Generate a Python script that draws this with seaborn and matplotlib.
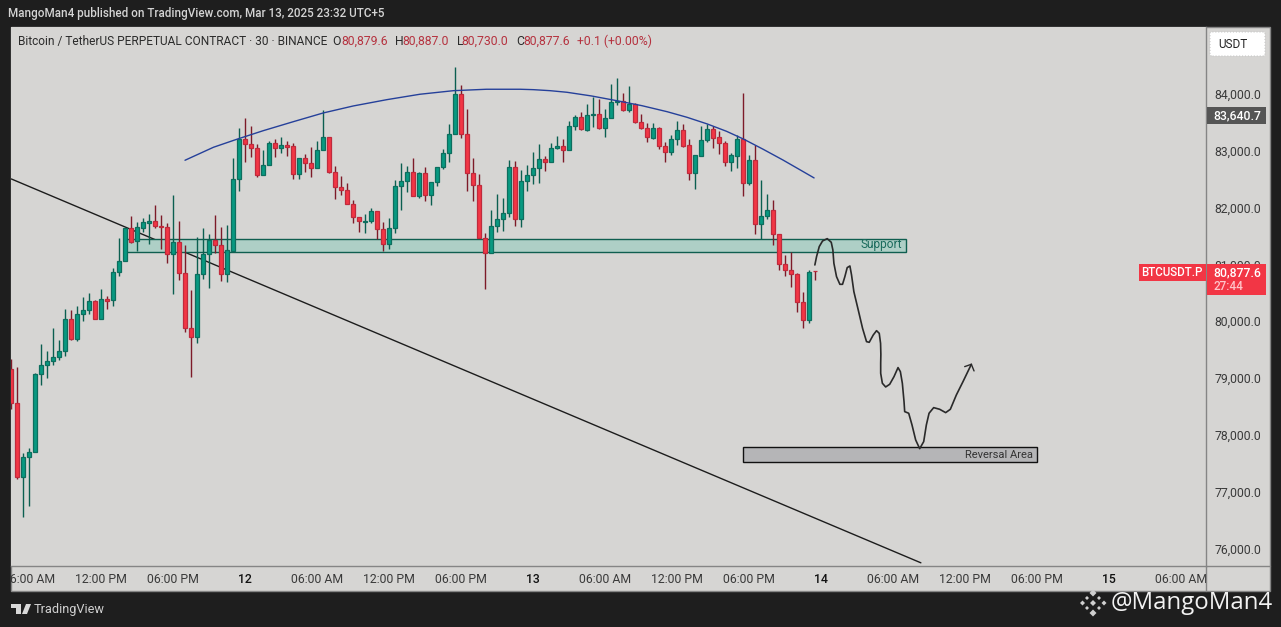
import numpy as np
import pandas as pd
import matplotlib
matplotlib.use("Agg")
import matplotlib.pyplot as plt
from matplotlib.lines import Line2D
from matplotlib.patches import Polygon, Rectangle, FancyBboxPatch
import seaborn as sns

# ---------- data (30 min BTCUSDT.P candles) ----------
open_ = [79152,78553,77250,77602,77690,79064,79222,79293,79363,79469,80032,79692,80120,80191,80349,80032,80385,80367,80860,81054,
         81635,81406,81647,81735,81758,81676,81652,81177,81388,80842,79874,79715,80825,81177,81423,81335,80825,81240,82497,83201,
         83113,83042,82579,82743,83130,83042,83095,83078,82596,82866,82790,82690,83007,83236,82631,82367,82303,82068,81827,81745,
         81757,81933,81628,81352,81634,82373,82461,82620,82209,82602,82226,82444,82708,82954,83289,83993,83289,82614,82403,81469,
         81193,81669,81792,81898,82708,81792,82461,82567,82690,82849,82796,83042,83078,83019,83430,83588,83371,83624,83641,83395,
         83571,83853,83882,83723,83829,83512,83395,83230,83395,83089,82972,83213,83359,83095,82602,82902,83183,83377,83236,83130,
         82808,82913,83201,82438,82831,81704,81845,81951,81528,80999,80894,80824,80331,80014,80879.6]
close = [78553,77250,77602,77690,79064,79222,79293,79363,79469,80032,79692,80120,80191,80349,80032,80385,80361,80860,81054,81635,
         81400,81652,81740,81758,81670,81658,81177,81388,80842,79874,79715,80825,81177,81423,81335,80825,81247,82497,83207,83113,
         83042,82579,82743,83130,83042,83095,83072,82596,82866,82790,82690,83007,83236,82631,82367,82303,82068,81827,81757,81757,
         81933,81628,81352,81634,82373,82461,82620,82209,82602,82226,82444,82708,82954,83289,83993,83289,82614,82403,81469,81193,
         81669,81792,81898,82708,81792,82461,82567,82690,82849,82796,83042,83078,83019,83430,83588,83377,83624,83647,83395,83571,
         83853,83882,83718,83829,83512,83395,83236,83395,83089,82972,83213,83359,83089,82602,82919,83183,83377,83230,83130,82808,
         82919,83201,82438,82831,81704,81845,81951,81528,80999,80894,80824,80331,80014,80859,80877.6]
high = [79334,79193,77673,77761,79080,79598,79475,79874,79668,80208,80197,80267,80426,80496,80373,80566,80443,80936,81465,81647,
        81852,81746,81817,81887,82046,81870,81729,82222,81764,81341,80549,81482,81641,81529,81870,81658,81694,82872,83395,83577,
        83436,83113,83013,83172,83201,83236,83172,83130,82866,82937,83060,83172,83712,83248,82725,82549,82426,82133,81827,81886,
        81986,81933,81739,81816,82479,82784,82725,82872,82626,82714,82444,82708,83031,83465,84475,84158,83735,82872,82590,81546,
        81957,82232,82162,82837,82819,82655,82743,82972,83119,82902,83130,83260,83201,83524,83629,83682,83823,83952,83905,83729,
        84175,84275,84017,84134,83847,83641,83483,83483,83412,83154,83271,83518,83471,83201,82919,83430,83465,83430,83354,83172,
        82966,83271,84017,82919,83095,82485,82238,82133,81528,81164,81223,80841,80507,80894,80887]
low = [78459,77226,76557,76751,77690,78882,79005,79228,79316,79392,79668,79657,80009,80132,80032,80032,80214,80273,80795,81054,
       81382,81236,81564,81353,81641,81265,81030,80484,80731,79815,79023,79621,80748,80590,81206,80713,80696,81240,82297,82808,
       82896,82544,82579,82743,82896,82966,82907,82508,82508,82632,82544,82690,83007,82614,82156,82226,82056,81734,81575,81557,
       81734,81440,81229,81276,81546,81962,82279,82203,82174,82121,82050,82385,82684,82808,83289,83230,82297,82121,81469,80571,
       81193,81575,81587,81828,81681,81663,82297,82420,82438,82649,82796,83025,82808,83019,83371,83365,83354,83412,83389,83248,
       83571,83811,83700,83688,83494,83389,83154,83207,83037,82808,82931,83095,83072,82485,82332,82902,83160,83054,82949,82731,
       82649,82702,82209,82403,81534,81440,81804,81340,80906,80800,80606,80166,79884,79961,80730]

arc_i = [28.95,33.7,37.6,42.0,47.0,52.0,57.0,62.6,68.1,73.7,79.2,84.8,87.0,89.8,92.6,96.7,100.9,105.1,109.3,112.6,116,119.2,122,125.3,128.6,131.5,133.8]
arc_p = [82833,83062,83203,83354,83512,83666,83789,83900,83995,84058,84083,84083,84076,84058,84030,83965,83882,83794,83688,83590,83472,83343,83208,83027,82838,82662,82522]

trend_i = [0.0, 151.6]
trend_p = [82504, 75746]

path_i = [133.93,134.21,134.66,135.21,135.99,136.66,136.93,137.1,137.54,138.1,138.54,138.93,139.32,139.77,140.04,140.43,141.16,141.88,142.54,142.99,
          143.66,144.21,144.66,144.88,144.93,144.9,144.9,145.18,145.73,146.4,147.12,147.79,148.18,148.51,148.79,148.9,149.57,150.12,150.73,151.4,
          152.07,152.51,152.96,153.73,154.73,155.73,156.51,157.51,158.62,160.01]
path_p = [80990,81136,81313,81412,81453,81389,81254,81019,80784,80649,80649,80784,80943,80972,80814,80520,80197,79874,79640,79628,
          79757,79833,79786,79610,79417,79259,79083,78907,78842,78889,79024,79183,79112,78907,78584,78408,78379,78173,77909,77756,
          77880,78173,78379,78478,78449,78390,78449,78701,78936,79241]
head_i = [158.9, 160.01, 160.46]
head_p = [79200, 79241, 79124]

support_zone = (19.0, 149.1, 81222, 81443)
reversal_zone = (121.95, 171.0, 77518, 77792)

y_ticks = [76000,77000,78000,79000,80000,81000,82000,83000,84000]
x_ticks = [3,15,27,39,51,63,75,87,99,111,123,135,147,159,171,183,195]
x_labels = ["06:00 AM","12:00 PM","06:00 PM","12","06:00 AM","12:00 PM","06:00 PM","13","06:00 AM","12:00 PM",
            "06:00 PM","14","06:00 AM","12:00 PM","06:00 PM","15","06:00 AM"]

# ---------- style ----------
W, H = 1281, 627
BG, PANEL = "#1e1e1e", "#d6d5d3"
BORDER = "#858585"
UP, UP_E, UP_W = "#089981", "#0d6e5e", "#0b5f50"
DN, DN_E, DN_W = "#f23645", "#c02a3c", "#7d1a28"
sns.set_theme(style="white")
plt.rcParams["font.family"] = ["Roboto", "DejaVu Sans"]

def fx(x): return x / W
def fy(y): return 1 - y / H

fig = plt.figure(figsize=(W / 100, H / 100), dpi=100, facecolor=BG)
fig.add_artist(Rectangle((fx(10.5), fy(591)), (1270 - 10.5) / W, (591 - 27) / H, transform=fig.transFigure,
                         facecolor=PANEL, edgecolor=BORDER, lw=1, zorder=-1))
ax = fig.add_axes([fx(11), fy(566), (1206 - 11) / W, (566 - 27) / H], facecolor=PANEL)

df = pd.DataFrame({"i": np.arange(len(open_)), "open": open_, "high": high, "low": low, "close": close})
df["bottom"] = df[["open", "close"]].min(axis=1)
df["body"] = (df["close"] - df["open"]).abs()
df["up"] = df["close"] >= df["open"]

# zones and lines
sns.lineplot(x=trend_i, y=trend_p, ax=ax, color="#1c1c1c", lw=1.0, zorder=1, estimator=None, sort=False)
ax.add_patch(Rectangle((support_zone[0], support_zone[2]), support_zone[1] - support_zone[0], support_zone[3] - support_zone[2],
                       facecolor="#aecfc6", edgecolor="#0f5e4f", lw=1, zorder=2))
ax.add_patch(Rectangle((reversal_zone[0], reversal_zone[2]), reversal_zone[1] - reversal_zone[0], reversal_zone[3] - reversal_zone[2],
                       facecolor="#b5b5b7", edgecolor="#111111", lw=1, zorder=2))

# candles
for is_up, col, edge, wick in [(True, UP, UP_E, UP_W), (False, DN, DN_E, DN_W)]:
    sub = df[df["up"] == is_up]
    ax.vlines(sub["i"], sub["low"], sub["high"], color=wick, lw=1, zorder=3)
    sns.barplot(data=sub, x="i", y="body", bottom=sub["bottom"].to_numpy(), native_scale=True, ax=ax, color=col,
                saturation=1, width=0.72, edgecolor=edge, linewidth=0.9, errorbar=None, zorder=4)

sns.lineplot(x=arc_i, y=arc_p, ax=ax, color="#25409a", lw=1.0, zorder=5, estimator=None, sort=False)
sns.lineplot(x=path_i, y=path_p, ax=ax, color="#2a2a2a", lw=1.2, zorder=5, estimator=None, sort=False)
sns.lineplot(x=head_i, y=head_p, ax=ax, color="#2a2a2a", lw=1.0, zorder=5, estimator=None, sort=False)

ax.text(148.4, 81345, "Support", ha="right", va="center", fontsize=8.6, color="#1a6b5c", zorder=6)
ax.text(170.3, 77640, "Reversal Area", ha="right", va="center", fontsize=8, color="#333333", zorder=6)

# axes
ax.set_xlim(-0.05, 199.12)
ax.set_ylim(75690, 85179)
ax.set(xlabel="", ylabel="")
ax.yaxis.tick_right()
ax.set_yticks(y_ticks)
ax.set_yticklabels([f"{v:,.1f}" for v in y_ticks])
ax.set_xticks(x_ticks)
ax.set_xticklabels(x_labels)
ax.tick_params(axis="both", length=0, labelsize=8.8, labelcolor="#3a3a3a")
ax.tick_params(axis="y", pad=6)
ax.tick_params(axis="x", pad=5)
clip = Rectangle((11, H - 591), 1195, 25, transform=None)
for lab in ax.get_xticklabels():
    lab.set_clip_path(clip)
    lab.set_clip_on(True)
    if len(lab.get_text()) == 2:
        lab.set_color("#111111")
        lab.set_fontweight("medium")
for s in ax.spines.values():
    s.set_visible(False)
for name in ("right", "bottom"):
    ax.spines[name].set_visible(True)
    ax.spines[name].set_color(BORDER)
    ax.spines[name].set_linewidth(1)
fig.add_artist(Line2D([fx(1206), fx(1206)], [fy(566), fy(591)], transform=fig.transFigure, color=BORDER, lw=1))
fig.add_artist(Line2D([fx(1206), fx(1270)], [fy(566), fy(566)], transform=fig.transFigure, color=BORDER, lw=1))

# price boxes
def box(x0, y0, x1, y1, color, **kw):
    fig.add_artist(Rectangle((fx(x0), fy(y1)), (x1 - x0) / W, (y1 - y0) / H, transform=fig.transFigure,
                             facecolor=color, edgecolor="none", zorder=10, **kw))

box(1206.5, 107, 1266, 124, "#555555")
fig.text(fx(1237), fy(115.5), "83,640.7", color="white", fontsize=8.8, fontweight="medium", ha="center", va="center", zorder=11)
box(1139, 264, 1205.5, 281, "#f23645")
fig.text(fx(1172), fy(272.5), "BTCUSDT.P", color="white", fontsize=8.3, fontweight="medium", ha="center", va="center", zorder=11)
box(1206.5, 264, 1266, 295, "#f23645")
fig.text(fx(1237), fy(272.5), "80,877.6", color="white", fontsize=8.8, fontweight="medium", ha="center", va="center", zorder=11)
fig.text(fx(1214), fy(286), "27:44", color="#ffc4c9", fontsize=8.5, fontweight="medium", ha="left", va="center", zorder=11)
fig.add_artist(FancyBboxPatch((fx(1210), fy(56)), 55 / W, 24 / H, boxstyle="round,pad=0,rounding_size=0.002",
                              transform=fig.transFigure, facecolor="white", edgecolor="#c8c8c8", lw=0.8, ls=":", zorder=10))
fig.text(fx(1218), fy(44.5), "USDT", color="#222222", fontsize=8.5, ha="left", va="center", zorder=11)

# header
fig.text(fx(8), fy(14), "MangoMan4 published on TradingView.com, Mar 13, 2025 23:32 UTC+5", color="#d4d4d4",
         fontsize=8.4, fontweight="medium", ha="left", va="center")
fig.text(fx(18), fy(41.5), "Bitcoin / TetherUS PERPETUAL CONTRACT · 30 · BINANCE", color="#2b2b2b", fontsize=8.55, ha="left", va="center")
RED = "#b5323f"
for x, s, c in [(332.5, "O", "#2b2b2b"), (341, "80,879.6", RED), (395, "H", "#2b2b2b"), (402.5, "80,887.0", RED),
                (456.5, "L", "#2b2b2b"), (461.5, "80,730.0", RED), (516, "C", "#2b2b2b"), (523, "80,877.6", RED),
                (577, "+0.1 (+0.00%)", RED)]:
    fig.text(fx(x), fy(41.5), s, color=c, fontsize=8.8, ha="left", va="center")

# footer
logo_c = "#d8d8d8"
for pts in ([(11, 604), (21, 604), (21, 614), (16, 614), (16, 608), (11, 608)],
            [(22, 614), (26, 604), (31, 604), (27, 614)]):
    fig.add_artist(Polygon([(fx(a), fy(b)) for a, b in pts], transform=fig.transFigure, facecolor=logo_c, edgecolor="none"))
fig.text(fx(34), fy(609.5), "TradingView", color="#d0d0d0", fontsize=9.2, ha="left", va="center")

bn = "#cfcfcf"
def diamond(cx, cy, r):
    fig.add_artist(Polygon([(fx(cx - r), fy(cy)), (fx(cx), fy(cy - r)), (fx(cx + r), fy(cy)), (fx(cx), fy(cy + r))],
                           transform=fig.transFigure, facecolor=bn, edgecolor="none", zorder=12))
for cx, cy, r in [(1093, 593, 3.5), (1082.5, 603, 2.5), (1104, 603, 2.5), (1093, 603, 3), (1093, 613, 3.5), (1087, 598, 2), (1099, 598, 2), (1087, 608, 2), (1099, 608, 2)]:
    diamond(cx, cy, r)
fig.text(fx(1111), fy(603), "@MangoMan4", color="#f2f2f2", fontsize=17.3, family="Open Sans", ha="left", va="center", zorder=12)

fig.savefig("out.png", dpi=100, facecolor=BG)
